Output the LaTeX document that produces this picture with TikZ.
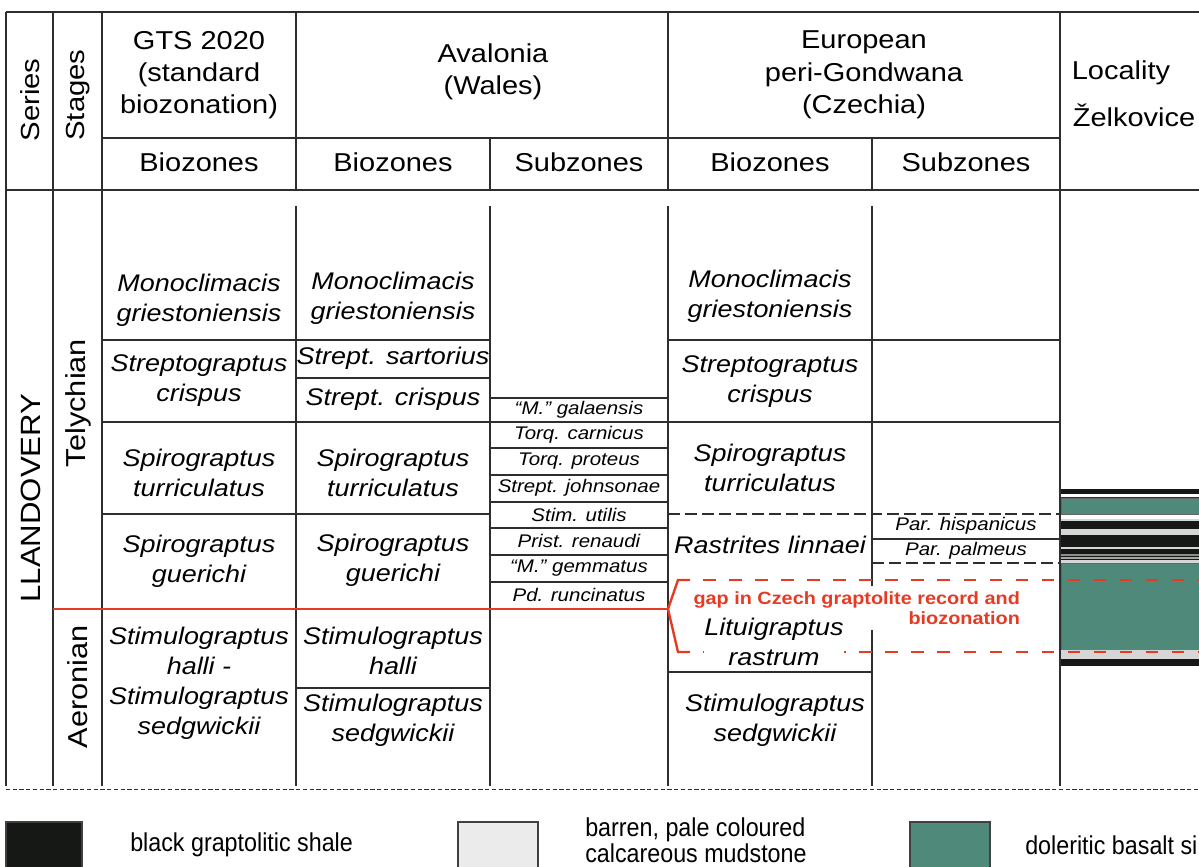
\documentclass[tikz,border=0pt]{standalone}
\usepackage{fontspec}
\setmainfont[FakeStretch=1.12]{Liberation Sans}
\newfontfamily\legendfont[FakeStretch=0.9]{Liberation Sans}
\usepackage{tikz}
\usetikzlibrary{positioning}
\definecolor{rulegrey}{HTML}{2E2E2E}
\definecolor{gapred}{HTML}{E53B25}
\definecolor{shale}{HTML}{161816}
\definecolor{mudstone}{HTML}{D6D6D6}
\definecolor{pale}{HTML}{EBEBEB}
\definecolor{basalt}{HTML}{4F897A}

\begin{document}
\begin{tikzpicture}[
  x=0.025cm,y=-0.025cm,
  every node/.style={inner sep=0pt},
  tableline/.style={draw=rulegrey,line width=0.9pt},
  softdash/.style={tableline,dash pattern=on 8.5pt off 3.5pt},
  basedash/.style={draw=rulegrey,line width=0.6pt,dash pattern=on 3pt off 1.8pt},
  boundary/.style={draw=gapred,line width=1.7pt},
  gapdash/.style={boundary,dash pattern=on 9pt off 9.5pt,dash phase=9pt},
  colhead/.style={font=\fontsize{18.4}{23}\selectfont,align=center},
  rank/.style={font=\fontsize{18.6}{22}\selectfont,rotate=90},
  zone/.style={font=\itshape\fontsize{17.1}{21.3}\selectfont,align=center},
  subzone/.style={font=\itshape\fontsize{13}{15}\selectfont},
  gapnote/.style={font=\bfseries\fontsize{12.6}{14.2}\selectfont,text=gapred,align=right,fill=white,inner xsep=2pt,inner ysep=4pt},
  swatch/.style={draw=black!75,line width=0.8pt},
  legendtext/.style={font=\legendfont\fontsize{18.4}{18.6}\selectfont,align=left,anchor=west}
]
  \useasboundingbox (0,0) rectangle (1199,867);

  % Lithology of the Zelkovice section sits behind the red gap markers.
  \fill[shale] (1061,489) rectangle (1199,494);
  \fill[rulegrey] (1061,497) rectangle (1199,498.3);
  \filldraw[basalt,draw=black!60,line width=0.4pt] (1061,498.3) rectangle (1199,514.3);
  \fill[mudstone] (1061,518.5) rectangle (1199,521);
  \fill[shale] (1061,521) rectangle (1199,529.3);
  \fill[mudstone] (1061,529.3) rectangle (1199,535.3);
  \fill[shale] (1061,535.3) rectangle (1199,547);
  \fill[mudstone] (1061,547) rectangle (1199,549);
  \fill[shale] (1061,549) rectangle (1199,554);
  \fill[black!45] (1061,554) rectangle (1199,556);
  \fill[shale] (1061,556) rectangle (1199,557.3);
  \fill[black!35] (1061,557.3) rectangle (1199,559);
  \fill[shale] (1061,559) rectangle (1199,560);
  \fill[mudstone] (1061,560) rectangle (1199,563.3);
  \filldraw[basalt,draw=black!60,line width=0.4pt] (1061,563.3) rectangle (1199,650);
  \fill[mudstone] (1061,650) rectangle (1199,659);
  \fill[shale] (1061,659) rectangle (1199,666);

  % Frame and header rows.
  \draw[tableline] (6,12) -- (1199,12);
  \draw[tableline] (102,138) -- (1060,138);
  \draw[tableline] (6,190) -- (1199,190);
  \foreach \x in {6,53,102,1060}
    \draw[tableline] (\x,12) -- (\x,786);
  \draw[tableline] (296,12) -- (296,190);
  \draw[tableline] (668,12) -- (668,190);
  \draw[tableline] (490,138) -- (490,190);
  \draw[tableline] (872,138) -- (872,190);
  % Body rules start a little below the header.
  \foreach \x in {296,490,668,872}
    \draw[tableline] (\x,206) -- (\x,786);

  % Zone boundaries.
  \draw[tableline] (102,340) -- (490,340);
  \draw[tableline] (668,340) -- (1060,340);
  \draw[tableline] (296,378) -- (490,378);
  \draw[tableline] (102,422) -- (1060,422);
  \draw[tableline] (102,514) -- (490,514);
  \draw[tableline] (872,539) -- (1060,539);
  \draw[tableline] (668,672) -- (872,672);
  \draw[tableline] (296,688) -- (490,688);
  \foreach \y in {398,448,475,502,528,555,582}
    \draw[tableline] (490,\y) -- (668,\y);
  \draw[softdash] (668,514) -- (1060,514);
  \draw[softdash] (872,563) -- (1060,563);
  \draw[basedash] (6,789) -- (1199,789);

  % Header texts.
  \node[rank] (series) at (30,100) {Series};
  \node[rank] (stages) at (78,95) {Stages};
  \node[colhead] (gts) at (199,75) {GTS 2020\\(standard\\biozonation)};
  \node[colhead] (avalonia) at (493,72) {Avalonia\\(Wales)};
  \node[colhead] (czechia) at (864,75) {European\\peri-Gondwana\\(Czechia)};
  \node[colhead] (locality) at (1121,73) {Locality};
  \node[colhead] (zelkovice) at (1134,115) {Želkovice};
  \node[colhead] (gtsbio) at (199,162) {Biozones};
  \node[colhead] (avbio) at (393,162) {Biozones};
  \node[colhead] (avsub) at (579,162) {Subzones};
  \node[colhead] (czbio) at (770,162) {Biozones};
  \node[colhead] (czsub) at (966,162) {Subzones};

  % Series and stages.
  \node[rank,font=\fontsize{19.8}{22}\selectfont] (llandovery) at (31,498) {LLANDOVERY};
  \node[rank,font=\fontsize{19.5}{22}\selectfont] (telychian) at (78,403) {Telychian};
  \node[rank,font=\fontsize{19.5}{22}\selectfont] (aeronian) at (78,687) {Aeronian};

  % GTS 2020 biozones.
  \node[zone] (gts1) at (199,300) {Monoclimacis\\griestoniensis};
  \node[zone] (gts2) at (199,381) {Streptograptus\\crispus};
  \node[zone] (gts3) at (199,473) {Spirograptus\\turriculatus};
  \node[zone] (gts4) at (199,561) {Spirograptus\\guerichi};
  \node[zone] (gts5) at (199,683) {Stimulograptus\\halli -\\Stimulograptus\\sedgwickii};

  % Avalonia biozones and subzones.
  \node[zone] (av1) at (393,298) {Monoclimacis\\griestoniensis};
  \node[zone] (av2) at (393,358) {Strept. sartorius};
  \node[zone] (av3) at (393,399) {Strept. crispus};
  \node[zone] (av4) at (393,473) {Spirograptus\\turriculatus};
  \node[zone] (av5) at (393,560) {Spirograptus\\guerichi};
  \node[zone] (av6) at (393,651) {Stimulograptus\\halli};
  \node[zone] (av7) at (393,720) {Stimulograptus\\sedgwickii};
  \node[subzone] (sub1) at (579,410) {“M.” galaensis};
  \node[subzone] (sub2) at (579,435) {Torq. carnicus};
  \node[subzone] (sub3) at (579,461) {Torq. proteus};
  \node[subzone] (sub4) at (579,488) {Strept. johnsonae};
  \node[subzone] (sub5) at (579,515) {Stim. utilis};
  \node[subzone] (sub6) at (579,541) {Prist. renaudi};
  \node[subzone] (sub7) at (579,568) {“M.” gemmatus};
  \node[subzone] (sub8) at (579,595) {Pd. runcinatus};

  % Red stage boundary and the Czech gap.
  \draw[boundary] (53,609) -- (668,609);
  \draw[boundary] (690,580) -- (678,580) -- (668,609) -- (678,652) -- (690,652);
  \draw[gapdash] (690,580) -- (1199,580);
  \draw[gapdash] (690,652) -- (1199,652);
  \node[gapnote,anchor=east] (gap) at (1023,608) {gap in Czech graptolite record and\\biozonation};

  % European peri-Gondwana biozones and subzones.
  \node[zone] (cz1) at (770,296) {Monoclimacis\\griestoniensis};
  \node[zone] (cz2) at (770,382) {Streptograptus\\crispus};
  \node[zone] (cz3) at (770,468) {Spirograptus\\turriculatus};
  \node[zone] (cz4) at (770,545) {Rastrites linnaei};
  \node[zone,fill=white] (cz5) at (774,642) {Lituigraptus\\rastrum};
  \node[zone] (cz6) at (775,720) {Stimulograptus\\sedgwickii};
  \node[subzone] (czsub1) at (966,526) {Par. hispanicus};
  \node[subzone] (czsub2) at (966,551) {Par. palmeus};

  % Legend.
  \filldraw[swatch,fill=shale] (6,822) rectangle (82,875);
  \node[legendtext] (shaletext) at (130,845) {black graptolitic shale};
  \filldraw[swatch,fill=pale] (458,822) rectangle (538,875);
  \node[legendtext] (mudtext) at (585,840) {barren, pale coloured\\calcareous mudstone};
  \filldraw[swatch,fill=basalt] (910,822) rectangle (990,875);
  \node[legendtext] (basalttext) at (1025,845) {doleritic basalt si};
\end{tikzpicture}
\end{document}
